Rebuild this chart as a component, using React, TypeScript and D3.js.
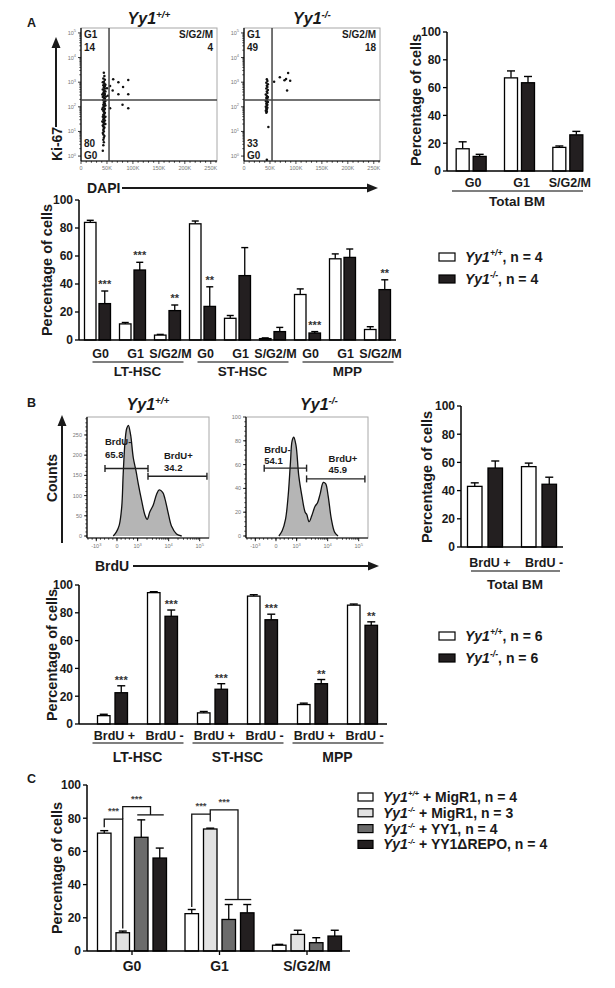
import React from "react";
import * as d3 from "d3";

const FONT = "'Liberation Sans', Arial, Helvetica, sans-serif";
const BLACK = "#231f20";
const INK = "#1a1a1a";

// ---------------- Panel A: Ki-67 / DAPI flow plots ----------------
const dapiTicks = [0, 50, 100, 150, 200, 250];
const dapiTickLabels = ["0", "50K", "100K", "150K", "200K", "250K"];
const ki67Decades = [0, 1, 2, 3, 4, 5];
const cycleGateNames = ["G1", "S/G2/M", "G0"];
const cycleGateWT = ["14", "4", "80"];
const cycleGateKO = ["49", "18", "33"];
const cycleGateCut = [54, 2.28]; // DAPI (K), log10 Ki-67

const dapiKi67WT: [number, number][] = [
  [44, 3.38], [45, 3.25], [43, 3.15], [46, 3.1], [44, 3.02], [45, 2.95], [47, 2.9], [43, 2.88],
  [45, 2.82], [44, 2.78], [46, 2.74], [42, 2.7], [45, 2.66], [47, 2.62], [44, 2.6], [43, 2.55],
  [46, 2.52], [45, 2.48], [44, 2.45], [48, 2.42], [42, 2.4], [45, 2.36], [46, 2.33], [44, 2.3],
  [43, 2.27], [47, 2.24], [45, 2.2], [44, 2.16], [46, 2.12], [43, 2.08], [45, 2.04], [44, 2.0],
  [42, 1.96], [46, 1.92], [45, 1.88], [43, 1.84], [44, 1.8], [46, 1.76], [45, 1.72], [43, 1.68],
  [44, 1.64], [42, 1.6], [45, 1.56], [44, 1.52], [43, 1.48], [46, 1.44], [44, 1.4], [43, 1.36],
  [45, 1.32], [44, 1.28], [42, 1.24], [43, 1.2], [45, 1.16], [44, 1.12], [43, 1.06], [44, 1.0],
  [42, 0.94], [43, 0.88], [45, 0.82], [44, 0.74], [43, 0.66], [44, 0.56], [43, 0.44], [42, 0.22],
  [47, 2.05], [41, 2.5], [47, 1.6], [41, 1.9], [46, 2.85], [42, 3.0], [47, 1.3], [41, 1.4],
  [62, 3.12], [72, 3.0], [56, 2.85], [81, 2.8], [91, 3.09], [72, 2.51], [91, 2.51], [80, 2.08],
  [91, 1.94], [56, 1.94], [61, 2.66], [50, 2.75], [52, 2.45],
];
const dapiKi67KO: [number, number][] = [
  [44, 3.12], [45, 3.05], [43, 2.98], [46, 2.92], [44, 2.86], [45, 2.8], [43, 2.74], [46, 2.68],
  [44, 2.62], [45, 2.56], [42, 2.5], [44, 2.44], [46, 2.4], [43, 2.36], [45, 2.32], [44, 2.28],
  [42, 2.24], [46, 2.2], [44, 2.16], [43, 2.12], [45, 2.08], [44, 2.04], [42, 2.0], [45, 1.96],
  [43, 1.92], [44, 1.88], [42, 1.84], [44, 1.8], [43, 1.76], [47, 1.18], [44, -0.15],
  [58, 3.02], [69, 3.2], [81, 3.13], [85, 3.37], [89, 3.06], [83, 2.66], [78, 3.08],
];

// ---------------- Panel A: bar charts ----------------
const phases = ["G0", "G1", "S/G2/M"];
const populations = ["LT-HSC", "ST-HSC", "MPP"];
const pctTicks = [0, 20, 40, 60, 80, 100];

const bmCycleWT = [16, 67, 17];
const bmCycleWTErr = [5, 5, 1];
const bmCycleKO = [10.5, 63.5, 26];
const bmCycleKOErr = [1.5, 4.5, 2.5];

const hspcCycleWT = [84, 11.5, 3.5, 83, 15.5, 1, 32.5, 58, 7.5];
const hspcCycleWTErr = [1.5, 1, 0.5, 2, 2, 0.5, 4, 3.5, 2];
const hspcCycleKO = [26, 50, 21, 24, 46, 6, 5, 59, 36];
const hspcCycleKOErr = [9, 5.5, 4, 14, 20, 3, 1, 6, 7];
const hspcCycleStars = ["***", "***", "**", "**", "", "", "***", "", "**"];

// ---------------- Panel B: BrdU histograms ----------------
const brduTickPos = [-1, 0, 1, 2.5, 4];
const brduTickBase = ["-10", "0", "10", "10", "10"];
const brduTickExp = ["3", "", "3", "4", "5"];
const countTicksWT = [0, 50, 100, 150, 200, 250];
const countTicksKO = [0, 20, 40, 60, 80, 100];
const brduHistWT: [number, number][] = [
  [-0.18, 0], [-0.02, 11], [0.11, 27], [0.23, 72], [0.3, 153], [0.39, 234], [0.47, 266],
  [0.55, 274], [0.66, 250], [0.79, 193], [0.92, 161], [1.03, 129], [1.19, 88], [1.35, 52],
  [1.46, 41], [1.59, 60], [1.75, 76], [1.92, 104], [2.04, 114], [2.21, 108], [2.32, 92],
  [2.48, 56], [2.64, 24], [2.88, 5], [3.13, 0],
];
const brduHistKO: [number, number][] = [
  [0.14, 0], [0.3, 4.4], [0.46, 14], [0.59, 34], [0.7, 62], [0.78, 80], [0.86, 83],
  [0.97, 76], [1.1, 51], [1.25, 34], [1.41, 20], [1.49, 18], [1.6, 12], [1.73, 17],
  [1.89, 25], [2.01, 28], [2.13, 35], [2.29, 45], [2.4, 44], [2.52, 34], [2.68, 14],
  [2.84, 3], [3.0, 0],
];
const brduGatesWT: [number, number, number][] = [[-0.58, 1.5, 167], [1.5, 4.35, 148]];
const brduGatesKO: [number, number, number][] = [[-0.57, 1.48, 57], [1.48, 4.3, 48]];
const brduGateNames = ["BrdU-", "BrdU+"];
const brduGateWT = ["65.8", "34.2"];
const brduGateKO = ["54.1", "45.9"];

// ---------------- Panel B: bar charts ----------------
const brduCats = ["BrdU +", "BrdU -"];
const bmBrduWT = [43, 57];
const bmBrduWTErr = [2.5, 2.5];
const bmBrduKO = [56, 44.5];
const bmBrduKOErr = [5, 5];

const hspcBrduWT = [6, 94.5, 8, 92, 14, 85.5];
const hspcBrduWTErr = [1, 0.7, 1, 1, 1, 0.8];
const hspcBrduKO = [22.5, 77.5, 25, 75, 29, 71];
const hspcBrduKOErr = [5, 4.5, 4, 4, 3, 2.5];
const hspcBrduStars = ["***", "***", "***", "***", "**", "**"];

// ---------------- Panel C: rescue ----------------
const rescueWTMig = [71, 22.5, 3.5];
const rescueWTMigErr = [1.5, 2.5, 0.5];
const rescueKOMig = [11, 73.5, 10];
const rescueKOMigErr = [1, 0.5, 2.5];
const rescueKOYY1 = [68.5, 19, 5];
const rescueKOYY1Err = [10.5, 9, 3];
const rescueKOREPO = [56, 23, 9];
const rescueKOREPOErr = [6, 5, 3.5];
const rescueLegendSup = ["+/+", "-/-", "-/-", "-/-"];
const rescueLegendRest = [" + MigR1, n = 4", " + MigR1, n = 3", " + YY1, n = 4", " + YY1\u0394REPO, n = 4"];
const rescueFills = ["#ffffff", "#e2e2e2", "#6b6b6b", BLACK];
const rescueBrackets = [
  { phase: 0, from: 0, to: 1, top: 79.5, fromEnd: 74.5, toEnd: 13.5, label: "***" },
  { phase: 0, from: 1, to: 2.5, top: 87, fromEnd: 79.5, toEnd: 82, label: "***" },
  { phase: 1, from: 0, to: 1, top: 82.5, fromEnd: 26.5, toEnd: 78, label: "***" },
  { phase: 1, from: 1, to: 2.5, top: 85, fromEnd: 82.5, toEnd: 31, label: "***" },
];

// ================= helpers =================
function Yy1Text({ x, y, sup, rest, size, anchor = "start", supScale = 0.62 }: any) {
  return (
    <text x={x} y={y} fontSize={size} fontWeight="bold" textAnchor={anchor} fill={INK}>
      <tspan fontStyle="italic">Yy1</tspan>
      <tspan fontStyle="italic" fontSize={size * supScale} dy={-size * 0.4}>{sup}</tspan>
      {rest ? <tspan dy={size * 0.4}>{rest}</tspan> : null}
    </text>
  );
}

function UpArrow({ x, yTip, yBase }: any) {
  return (
    <g>
      <line x1={x} x2={x} y1={yBase} y2={yTip + 8} stroke={INK} strokeWidth={2} />
      <polygon points={`${x},${yTip} ${x - 4.5},${yTip + 11} ${x + 4.5},${yTip + 11}`} fill={INK} />
    </g>
  );
}
function RightArrow({ y, x1, xTip }: any) {
  return (
    <g>
      <line x1={x1} x2={xTip - 8} y1={y} y2={y} stroke={INK} strokeWidth={2} />
      <polygon points={`${xTip},${y} ${xTip - 11},${y - 4.5} ${xTip - 11},${y + 4.5}`} fill={INK} />
    </g>
  );
}

function FlowPlot({ x0, sup, points, values }: any) {
  const W = 136, top = 28, bottom = 161;
  const x = d3.scaleLinear().domain([0, 262]).range([x0, x0 + W]);
  const y = d3.scaleLinear().domain([-0.2, 5.2]).range([bottom, top]);
  const minorX = d3.range(0, 261, 10);
  const minorY = ki67Decades.slice(0, -1).flatMap((d) => d3.range(2, 10).map((k) => d + Math.log10(k)));
  return (
    <g>
      <Yy1Text x={x0 + W / 2} y={24} sup={sup} size={16} anchor="middle" />
      <rect x={x0} y={top} width={W} height={bottom - top} fill="none" stroke="#a8a8a8" strokeWidth={1} />
      <line x1={x0} x2={x0} y1={top} y2={bottom} stroke="#000" strokeWidth={1.2} />
      <line x1={x0} x2={x0 + W} y1={bottom} y2={bottom} stroke="#000" strokeWidth={1.2} />
      {minorX.map((v) => (
        <line key={"mx" + v} x1={x(v)} x2={x(v)} y1={bottom} y2={bottom + (v % 50 === 0 ? 3 : 1.8)} stroke="#000" strokeWidth={0.7} />
      ))}
      {dapiTicks.map((v, i) => (
        <text key={"xl" + v} x={x(v)} y={bottom + 9} fontSize={5.5} fill="#777" textAnchor="middle">{dapiTickLabels[i]}</text>
      ))}
      {ki67Decades.map((d) => (
        <g key={"yd" + d}>
          <line x1={x0 - 3} x2={x0} y1={y(d)} y2={y(d)} stroke="#000" strokeWidth={0.8} />
          <text x={x0 - 5} y={y(d) + 2} fontSize={5.5} fill="#777" textAnchor="end">
            10<tspan fontSize={4} dy={-2.5}>{d}</tspan>
          </text>
        </g>
      ))}
      {minorY.map((v, i) => (
        <line key={"my" + i} x1={x0 - 1.8} x2={x0} y1={y(v)} y2={y(v)} stroke="#000" strokeWidth={0.6} />
      ))}
      {points.map((p: [number, number], i: number) => (
        <circle key={i} cx={x(p[0])} cy={y(p[1])} r={1.25} fill="#111" />
      ))}
      <line x1={x(cycleGateCut[0])} x2={x(cycleGateCut[0])} y1={top} y2={bottom} stroke="#444" strokeWidth={1.5} />
      <line x1={x0} x2={x0 + W} y1={y(cycleGateCut[1])} y2={y(cycleGateCut[1])} stroke="#444" strokeWidth={1.5} />
      <g fontSize={10} fontWeight="bold" fill={INK}>
        <text x={x0 + 3} y={top + 10}>{cycleGateNames[0]}</text>
        <text x={x0 + 3} y={top + 23}>{values[0]}</text>
        <text x={x0 + W - 4} y={top + 10} textAnchor="end">{cycleGateNames[1]}</text>
        <text x={x0 + W - 4} y={top + 23} textAnchor="end">{values[1]}</text>
        <text x={x0 + 3} y={bottom - 14}>{values[2]}</text>
        <text x={x0 + 3} y={bottom - 2}>{cycleGateNames[2]}</text>
      </g>
    </g>
  );
}

function Histogram({ x0, sup, titleX, data, yMax, yTicks, gates, values, nameDy, valDy, plusDx }: any) {
  const W = 122, top = 417, bottom = 538;
  const x = d3.scaleLinear().domain([-1.45, 4.45]).range([x0, x0 + W]);
  const y = d3.scaleLinear().domain([0, yMax]).range([536, top]);
  const area = d3.area<[number, number]>().x((d) => x(d[0])).y0(y(0)).y1((d) => y(d[1])).curve(d3.curveCatmullRom);
  const line = d3.line<[number, number]>().x((d) => x(d[0])).y((d) => y(d[1])).curve(d3.curveCatmullRom);
  const minor: number[] = [
    ...d3.range(-1.4, 1.01, 0.2),
    ...d3.range(2, 10).map((k) => 1 + 1.5 * Math.log10(k)),
    ...d3.range(2, 10).map((k) => 2.5 + 1.5 * Math.log10(k)),
  ];
  const yMinor = d3.range(0, yMax, yTicks[1] / 5);
  return (
    <g>
      <Yy1Text x={titleX} y={410} sup={sup} size={16} anchor="middle" />
      <rect x={x0} y={top} width={W} height={bottom - top} fill="none" stroke="#a8a8a8" strokeWidth={1} />
      <path d={area(data) || ""} fill="#b5b5b5" />
      <path d={line(data) || ""} fill="none" stroke="#111" strokeWidth={1.3} />
      <line x1={x0} x2={x0} y1={top} y2={bottom} stroke="#000" strokeWidth={1.2} />
      <line x1={x0} x2={x0 + W} y1={bottom} y2={bottom} stroke="#000" strokeWidth={1.2} />
      {minor.map((v, i) => (
        <line key={"m" + i} x1={x(v)} x2={x(v)} y1={bottom} y2={bottom + 1.8} stroke="#000" strokeWidth={0.7} />
      ))}
      {brduTickPos.map((v, i) => (
        <g key={"t" + i}>
          <line x1={x(v)} x2={x(v)} y1={bottom} y2={bottom + 3.2} stroke="#000" strokeWidth={0.9} />
          <text x={x(v)} y={bottom + 10} fontSize={5.5} fill="#777" textAnchor="middle">
            {brduTickBase[i]}
            {brduTickExp[i] ? <tspan fontSize={4} dy={-2.5}>{brduTickExp[i]}</tspan> : null}
          </text>
        </g>
      ))}
      {yMinor.map((v, i) => (
        <line key={"ym" + i} x1={x0 - 1.8} x2={x0} y1={y(v)} y2={y(v)} stroke="#000" strokeWidth={0.6} />
      ))}
      {yTicks.map((v: number) => (
        <g key={"yt" + v}>
          <line x1={x0 - 3} x2={x0} y1={y(v)} y2={y(v)} stroke="#000" strokeWidth={0.8} />
          <text x={x0 - 5} y={y(v) + 2} fontSize={5.5} fill="#777" textAnchor="end">{v}</text>
        </g>
      ))}
      {gates.map((g: [number, number, number], i: number) => (
        <g key={"g" + i} stroke="#222" strokeWidth={1.4}>
          <line x1={x(g[0])} x2={x(g[1])} y1={y(g[2])} y2={y(g[2])} />
          <line x1={x(g[0])} x2={x(g[0])} y1={y(g[2]) - 3.5} y2={y(g[2]) + 3.5} />
          <line x1={x(g[1])} x2={x(g[1])} y1={y(g[2]) - 3.5} y2={y(g[2]) + 3.5} />
        </g>
      ))}
      <g fontSize={9.5} fontWeight="bold" fill={INK}>
        {gates.map((g: [number, number, number], i: number) => (
          <g key={"gl" + i}>
            <text x={x(g[0]) + (i === 1 ? plusDx : 0)} y={y(g[2]) - nameDy[i]}>{brduGateNames[i]}</text>
            <text x={x(g[0]) + (i === 1 ? plusDx : 0)} y={y(g[2]) - valDy[i]}>{values[i]}</text>
          </g>
        ))}
      </g>
    </g>
  );
}

type Series = { values: number[]; errs: number[]; fill: string };
function BarChart({ n, range, yRange, axisX, axisEnd, series, bw, gap, stars, starGap = 3, starSize = 11, yLabel, capW, tickFont = 12, xTicks = false }: any) {
  const xb = d3.scaleBand<number>().domain(d3.range(n)).range(range);
  const y = d3.scaleLinear().domain([0, 100]).range(yRange);
  const m = series.length;
  const total = m * bw + (m - 1) * gap;
  const inner = d3.scaleBand<number>().domain(d3.range(m)).range([-total / 2, total / 2]).paddingInner(gap / (bw + gap));
  const cx = (i: number) => (xb(i) as number) + xb.bandwidth() / 2;
  const w = inner.bandwidth();
  return (
    <g>
      {series.map((s: Series, si: number) =>
        s.values.map((v, i) => {
          const bx = cx(i) + (inner(si) as number);
          const top = y(v + s.errs[i]);
          return (
            <g key={si + "-" + i}>
              <line x1={bx + w / 2} x2={bx + w / 2} y1={y(v)} y2={top} stroke="#000" strokeWidth={1.3} />
              <line x1={bx + w / 2 - capW / 2} x2={bx + w / 2 + capW / 2} y1={top} y2={top} stroke="#000" strokeWidth={1.4} />
              <rect x={bx} y={y(v)} width={w} height={y(0) - y(v)} fill={s.fill} stroke="#000" strokeWidth={1.3} />
            </g>
          );
        })
      )}
      {stars
        ? stars.map((st: string, i: number) => {
            const s = series[1];
            const bx = cx(i) + (inner(1) as number) + w / 2;
            return st ? (
              <text key={"st" + i} x={bx} y={y(s.values[i] + s.errs[i]) - starGap} fontSize={starSize} fontWeight="bold" fill="#333" textAnchor="middle">{st}</text>
            ) : null;
          })
        : null}
      <line x1={axisX} x2={axisX} y1={y(0)} y2={y(100)} stroke="#000" strokeWidth={1.5} />
      <line x1={axisX} x2={axisEnd} y1={y(0)} y2={y(0)} stroke="#000" strokeWidth={1.5} />
      {pctTicks.map((t) => (
        <g key={"yt" + t}>
          <line x1={axisX - 4} x2={axisX} y1={y(t)} y2={y(t)} stroke="#000" strokeWidth={1.3} />
          <text x={axisX - 6} y={y(t)} dy="0.36em" fontSize={tickFont} fontWeight="bold" textAnchor="end" fill={INK}>{t}</text>
        </g>
      ))}
      {xTicks
        ? d3.range(n).map((i) => <line key={"xt" + i} x1={cx(i)} x2={cx(i)} y1={y(0)} y2={y(0) + 4} stroke="#000" strokeWidth={1.3} />)
        : null}
      <text transform={`translate(${yLabel[0]},${yLabel[1]}) rotate(-90)`} textAnchor="middle" dy="0.36em" fontSize={14.5} fontWeight="bold" fill={INK}>
        Percentage of cells
      </text>
    </g>
  );
}

function TwoLegend({ x, y, n }: any) {
  return (
    <g>
      <rect x={x} y={y - 4} width={16} height={8} fill="#fff" stroke="#000" strokeWidth={1.2} />
      <Yy1Text x={x + 26} y={y + 5} sup="+/+" rest={`, n = ${n}`} size={14} />
      <rect x={x} y={y + 18} width={16} height={8} fill={BLACK} stroke="#000" strokeWidth={1.2} />
      <Yy1Text x={x + 26} y={y + 27} sup="-/-" rest={`, n = ${n}`} size={14} />
    </g>
  );
}

// ================= App =================
export default function App() {
  const aBand = d3.scaleBand<number>().domain(d3.range(9)).range([80, 395]);
  const aC = (i: number) => (aBand(i) as number) + aBand.bandwidth() / 2;
  const bBand = d3.scaleBand<number>().domain(d3.range(6)).range([87.5, 387.5]);
  const bC = (i: number) => (bBand(i) as number) + bBand.bandwidth() / 2;
  const aTR = d3.scaleBand<number>().domain(d3.range(3)).range([447, 592]);
  const aTRC = (i: number) => (aTR(i) as number) + aTR.bandwidth() / 2;
  const bTR = d3.scaleBand<number>().domain(d3.range(2)).range([458, 566]);
  const bTRC = (i: number) => (bTR(i) as number) + bTR.bandwidth() / 2;

  const cBand = d3.scaleBand<number>().domain(d3.range(3)).range([88.25, 350.75]);
  const cC = (i: number) => (cBand(i) as number) + cBand.bandwidth() / 2;
  const cY = d3.scaleLinear().domain([0, 100]).range([951, 785]);
  const cBw = 13.5, cGap = 5;
  const barC = (phase: number, idx: number) => cC(phase) - (4 * cBw + 3 * cGap) / 2 + cBw / 2 + idx * (cBw + cGap);

  return (
    <svg width={615} height={988} style={{ position: "absolute", left: 0, top: 0, background: "#fff" }} fontFamily={FONT}>
      <rect x={0} y={0} width={615} height={988} fill="#fff" />
      {/* ---------------- Panel A ---------------- */}
      <text x={27} y={27} fontSize={12.5} fontWeight="bold" fill={INK}>A</text>
      <FlowPlot x0={81} sup="+/+" points={dapiKi67WT} values={cycleGateWT} />
      <FlowPlot x0={244} sup="-/-" points={dapiKi67KO} values={cycleGateKO} />
      <UpArrow x={56} yTip={37} yBase={127} />
      <text transform="translate(57,144) rotate(-90)" textAnchor="middle" dy="0.36em" fontSize={14} fontWeight="bold" fill={INK}>Ki-67</text>
      <text x={87} y={193} fontSize={14} fontWeight="bold" fill={INK}>DAPI</text>
      <RightArrow y={188} x1={122} xTip={378} />

      <BarChart
        n={3} range={[447, 592]} yRange={[171, 32]} axisX={447} axisEnd={583} bw={13} gap={4} capW={8}
        series={[
          { values: bmCycleWT, errs: bmCycleWTErr, fill: "#fff" },
          { values: bmCycleKO, errs: bmCycleKOErr, fill: BLACK },
        ]}
        yLabel={[416, 100]}
      />
      <g fontSize={12.5} fontWeight="bold" fill={INK} textAnchor="middle">
        {phases.map((p, i) => <text key={p} x={aTRC(i) + 2} y={187}>{p}</text>)}
      </g>
      <line x1={452} x2={583} y1={191} y2={191} stroke="#000" strokeWidth={1.2} />
      <text x={517} y={206} fontSize={13.5} fontWeight="bold" textAnchor="middle" fill={INK}>Total BM</text>

      <BarChart
        n={9} range={[80, 395]} yRange={[340, 200]} axisX={79} axisEnd={396} bw={11.5} gap={3} capW={7}
        series={[
          { values: hspcCycleWT, errs: hspcCycleWTErr, fill: "#fff" },
          { values: hspcCycleKO, errs: hspcCycleKOErr, fill: BLACK },
        ]}
        stars={hspcCycleStars} starGap={3} starSize={11}
        yLabel={[47, 270]}
      />
      <g fontSize={12.5} fontWeight="bold" fill={INK} textAnchor="middle">
        {d3.range(9).map((i) => <text key={"ap" + i} x={aC(i) + 3} y={358}>{phases[i % 3]}</text>)}
      </g>
      {populations.map((p, g) => (
        <g key={p}>
          <line x1={aC(g * 3) - 5} x2={aC(g * 3 + 2) + 16} y1={362} y2={362} stroke="#000" strokeWidth={1.2} />
          <text x={(aC(g * 3) + aC(g * 3 + 2)) / 2 + 5} y={376} fontSize={13.5} fontWeight="bold" textAnchor="middle" fill={INK}>{p}</text>
        </g>
      ))}
      <TwoLegend x={439} y={257} n={4} />

      {/* ---------------- Panel B ---------------- */}
      <text x={27} y={407} fontSize={12.5} fontWeight="bold" fill={INK}>B</text>
      <Histogram x0={87} sup="+/+" titleX={148} data={brduHistWT} yMax={294.5} yTicks={countTicksWT}
        gates={brduGatesWT} values={brduGateWT} nameDy={[24, 17]} valDy={[11, 5]} plusDx={16} />
      <Histogram x0={246} sup="-/-" titleX={319} data={brduHistKO} yMax={100} yTicks={countTicksKO}
        gates={brduGatesKO} values={brduGateKO} nameDy={[15, 17]} valDy={[4, 6]} plusDx={22} />
      <UpArrow x={62} yTip={415} yBase={543} />
      <text transform="translate(52,478) rotate(-90)" textAnchor="middle" dy="0.36em" fontSize={14} fontWeight="bold" fill={INK}>Counts</text>
      <text x={95} y={571} fontSize={14} fontWeight="bold" fill={INK}>BrdU</text>
      <RightArrow y={566} x1={133} xTip={379} />

      <BarChart
        n={2} range={[458, 566]} yRange={[547, 406]} axisX={461} axisEnd={563} bw={14.5} gap={6} capW={8}
        series={[
          { values: bmBrduWT, errs: bmBrduWTErr, fill: "#fff" },
          { values: bmBrduKO, errs: bmBrduKOErr, fill: BLACK },
        ]}
        yLabel={[427, 477]}
      />
      <g fontSize={12.5} fontWeight="bold" fill={INK} textAnchor="middle">
        {brduCats.map((c, i) => <text key={c} x={bTRC(i) + 5} y={567}>{c}</text>)}
      </g>
      <line x1={471} x2={560} y1={571} y2={571} stroke="#000" strokeWidth={1.2} />
      <text x={515} y={589} fontSize={13.5} fontWeight="bold" textAnchor="middle" fill={INK}>Total BM</text>

      <BarChart
        n={6} range={[87.5, 387.5]} yRange={[724, 585]} axisX={79} axisEnd={387} bw={12.5} gap={5} capW={8}
        series={[
          { values: hspcBrduWT, errs: hspcBrduWTErr, fill: "#fff" },
          { values: hspcBrduKO, errs: hspcBrduKOErr, fill: BLACK },
        ]}
        stars={hspcBrduStars} starGap={2} starSize={11}
        yLabel={[52, 655]}
      />
      <g fontSize={12.5} fontWeight="bold" fill={INK} textAnchor="middle">
        {d3.range(6).map((i) => <text key={"bc" + i} x={bC(i) + 2} y={740}>{brduCats[i % 2]}</text>)}
      </g>
      {populations.map((p, g) => (
        <g key={"b" + p}>
          <line x1={bC(g * 2) - 20} x2={bC(g * 2 + 1) + 21} y1={743} y2={743} stroke="#000" strokeWidth={1.2} />
          <text x={(bC(g * 2) + bC(g * 2 + 1)) / 2} y={762} fontSize={14} fontWeight="bold" textAnchor="middle" fill={INK}>{p}</text>
        </g>
      ))}
      <TwoLegend x={439} y={636} n={6} />

      {/* ---------------- Panel C ---------------- */}
      <text x={27} y={783} fontSize={12.5} fontWeight="bold" fill={INK}>C</text>
      <BarChart
        n={3} range={[88.25, 350.75]} yRange={[951, 785]} axisX={87} axisEnd={350} bw={cBw} gap={cGap} capW={8}
        series={[
          { values: rescueWTMig, errs: rescueWTMigErr, fill: rescueFills[0] },
          { values: rescueKOMig, errs: rescueKOMigErr, fill: rescueFills[1] },
          { values: rescueKOYY1, errs: rescueKOYY1Err, fill: rescueFills[2] },
          { values: rescueKOREPO, errs: rescueKOREPOErr, fill: rescueFills[3] },
        ]}
        yLabel={[57, 868]} xTicks
      />
      <g fontSize={14} fontWeight="bold" fill={INK} textAnchor="middle">
        {phases.map((p, i) => <text key={"cp" + p} x={cC(i)} y={971}>{p}</text>)}
      </g>
      {rescueBrackets.map((b, i) => {
        const x1 = barC(b.phase, b.from);
        const x2 = barC(b.phase, b.to);
        const grouped = b.to % 1 !== 0;
        return (
          <g key={"br" + i}>
            <path d={`M${x1},${cY(b.fromEnd)}V${cY(b.top)}H${x2}V${cY(b.toEnd)}`} fill="none" stroke="#111" strokeWidth={1.3} />
            {grouped ? (
              <line x1={barC(b.phase, Math.floor(b.to)) - 4} x2={barC(b.phase, Math.ceil(b.to)) + 4} y1={cY(b.toEnd)} y2={cY(b.toEnd)} stroke="#111" strokeWidth={1.3} />
            ) : null}
            <text x={(x1 + x2) / 2} y={cY(b.top) - 5} fontSize={9.5} fontWeight="bold" fill="#444" textAnchor="middle">{b.label}</text>
          </g>
        );
      })}
      {rescueLegendSup.map((s, i) => (
        <g key={"cl" + i}>
          <rect x={358} y={797 + i * 15.8 - 4} width={15} height={8} fill={rescueFills[i]} stroke="#000" strokeWidth={1.2} />
          <Yy1Text x={383} y={797 + i * 15.8 + 5} sup={s} rest={rescueLegendRest[i]} size={14} supScale={0.55} />
        </g>
      ))}
    </svg>
  );
}
